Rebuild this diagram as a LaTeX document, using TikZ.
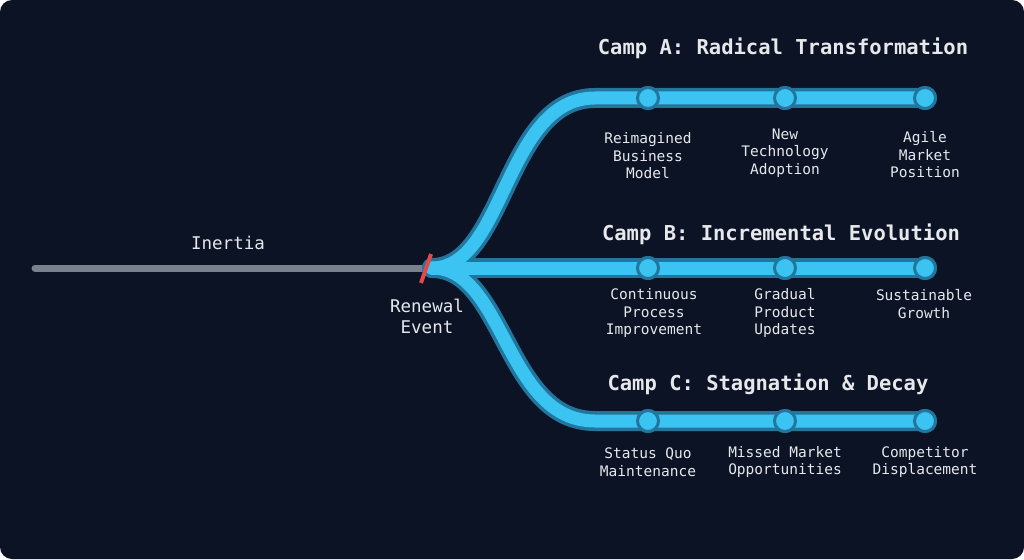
\documentclass[tikz,border=0pt]{standalone}
\usepackage{fontspec}
\setmainfont{DejaVu Sans Mono}
\usetikzlibrary{positioning}
\definecolor{bgnavy}{HTML}{0C1325}
\definecolor{trackblue}{HTML}{3BC4F2}
\definecolor{trackedge}{HTML}{22759C}
\definecolor{inertgray}{HTML}{7A808C}
\definecolor{slashred}{HTML}{E04A4A}
\definecolor{textwhite}{HTML}{E6E8EC}

\begin{document}
\begin{tikzpicture}[
    x=1pt, y=-1pt,
    edgeline/.style={draw=trackedge, line width=20pt, line cap=round},
    coreline/.style={draw=trackblue, line width=13pt, line cap=round},
    stn/.style={circle, fill=trackblue, draw=trackedge, line width=3pt, minimum size=21pt, inner sep=0pt},
    camp/.style={text=textwhite, font=\fontsize{20.5}{24}\selectfont\bfseries},
    lbl/.style={text=textwhite, font=\fontsize{14.5}{17.5}\selectfont, align=center},
    biglbl/.style={text=textwhite, font=\fontsize{17.5}{21}\selectfont, align=center},
  ]
  % background
  \fill[white] (0,0) rectangle (1024,559);
  \fill[bgnavy, rounded corners=12pt] (0,0) rectangle (1024,559);
  \useasboundingbox (0,0) rectangle (1024,559);

  % points on the tracks
  \coordinate (start) at (35,268);
  \coordinate (cut)   at (426,268);
  \coordinate (junc)  at (432,268);
  \coordinate (abend) at (595,98);
  \coordinate (cbend) at (595,421);

  \node[stn] (a1) at (648,98)  {};
  \node[stn] (a2) at (785,98)  {};
  \node[stn] (a3) at (925,98)  {};
  \node[stn] (b1) at (648,268) {};
  \node[stn] (b2) at (785,268) {};
  \node[stn] (b3) at (925,268) {};
  \node[stn] (c1) at (648,421) {};
  \node[stn] (c2) at (785,421) {};
  \node[stn] (c3) at (925,421) {};

  % inertia line
  \draw[inertgray, line width=7pt, line cap=round] (start) -- (cut);

  % tracks: edge first, then core
  \foreach \sty in {edgeline, coreline} {
    \draw[\sty] (junc) .. controls (505,268) and (505,98) .. (abend) -- (a3.center);
    \draw[\sty] (junc) -- (b3.center);
    \draw[\sty] (junc) .. controls (505,268) and (505,421) .. (cbend) -- (c3.center);
  }

  % stations again on top
  \foreach \s in {a1,a2,a3,b1,b2,b3,c1,c2,c3}
    \node[stn] at (\s) {};

  % renewal slash
  \draw[slashred, line width=4pt] ([shift={(-5,15)}]cut) -- ([shift={(5,-14)}]cut);

  % texts
  \node[biglbl] (inertia) at (228,243) {Inertia};
  \node[biglbl] (renewal) at (427,316) {Renewal\\Event};

  \node[camp] (campa) at (783,48)  {Camp A: Radical Transformation};
  \node[camp] (campb) at (781,234) {Camp B: Incremental Evolution};
  \node[camp] (campc) at (768,384) {Camp C: Stagnation \& Decay};

  \node[lbl] (la1) at (648,156) {Reimagined\\Business\\Model};
  \node[lbl] (la2) at (785,153) {New\\Technology\\Adoption};
  \node[lbl] (la3) at (925,155) {Agile\\Market\\Position};

  \node[lbl] (lb1) at (654,313) {Continuous\\Process\\Improvement};
  \node[lbl] (lb2) at (785,313) {Gradual\\Product\\Updates};
  \node[lbl] (lb3) at (924,304) {Sustainable\\Growth};

  \node[lbl] (lc1) at (648,462) {Status Quo\\Maintenance};
  \node[lbl] (lc2) at (785,462) {Missed Market\\Opportunities};
  \node[lbl] (lc3) at (925,462) {Competitor\\Displacement};
\end{tikzpicture}
\end{document}
